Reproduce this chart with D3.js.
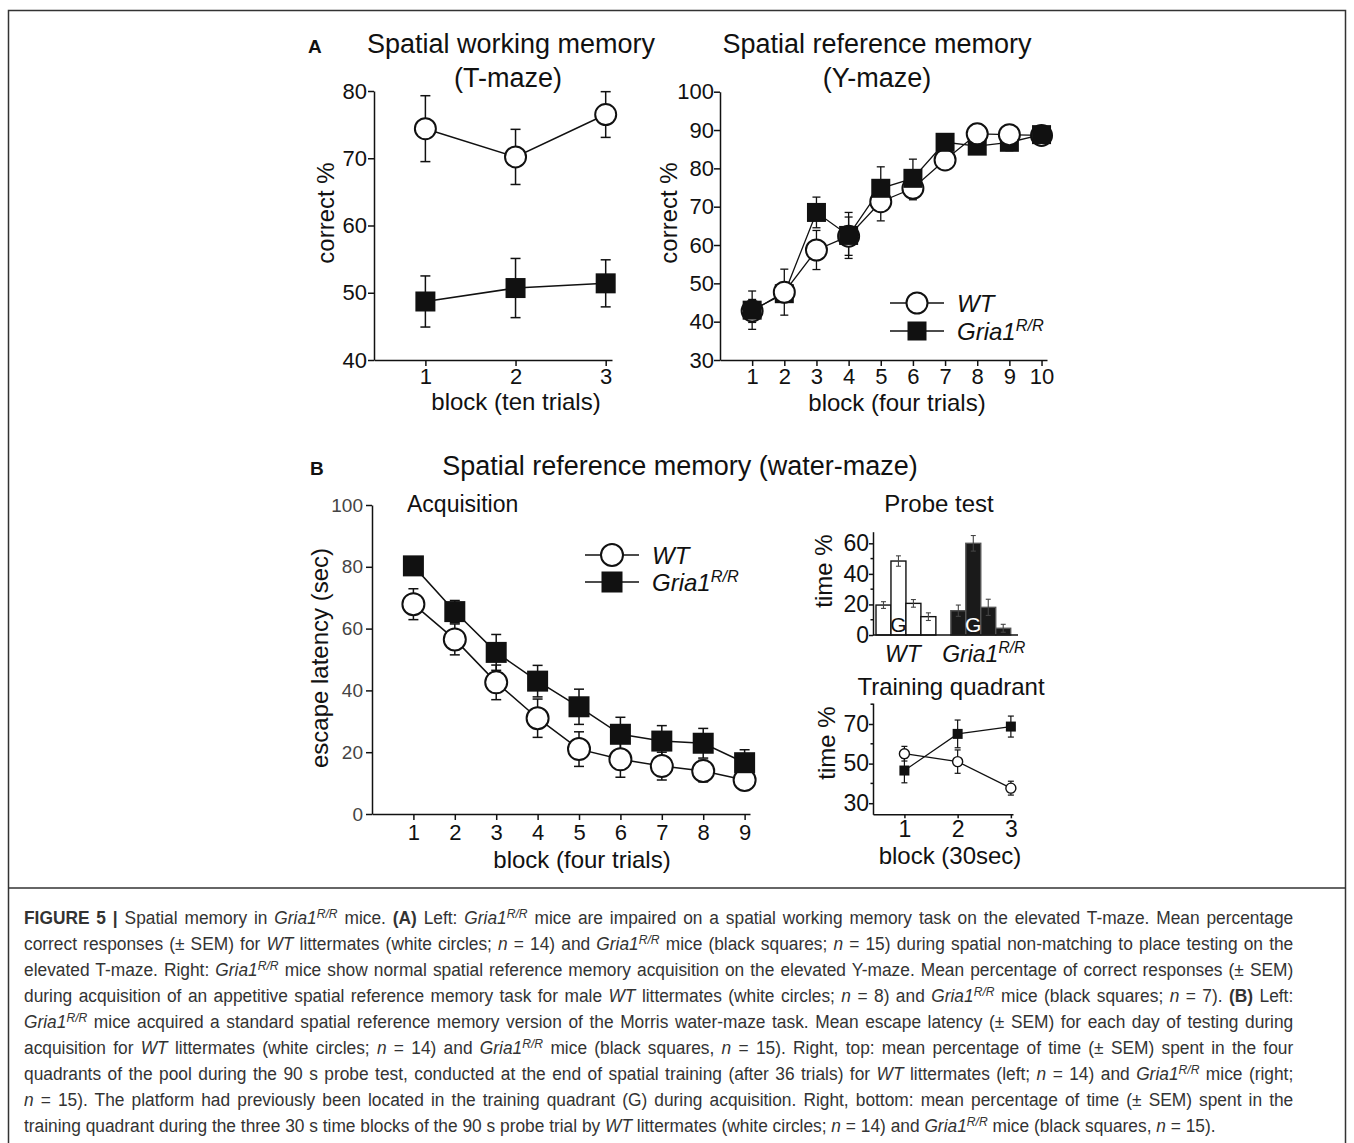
<!DOCTYPE html>
<html>
<head>
<meta charset="utf-8">
<script src="https://cdn.jsdelivr.net/npm/d3@7"></script>
<style>
body { margin: 0; background: #fff; }
#fig { position: relative; width: 1354px; height: 1143px; overflow: hidden; background: #fff; }
#fig svg { position: absolute; left: 0; top: 0; }
.cap { position: absolute; left: 24px; top: 905px; font-family: "Liberation Sans", Arial, sans-serif; font-size: 18px; line-height: 26px; color: #333; }
.cap div { width: 1318px; transform: scaleX(0.963); transform-origin: 0 0; text-align: justify; text-align-last: justify; white-space: nowrap; }
.cap div.last { text-align-last: left; }
.cap sup { font-size: 0.7em; line-height: 0; vertical-align: 0.5em; }
</style>
</head>
<body>
<div id="fig"></div>
<script>
// ---- data ----
// A left: T-maze, block (ten trials)
const tBlocks = [1, 2, 3];
const tmazeWT = [74.4, 70.2, 76.5];
const tmazeWTsem = [4.9, 4.1, 3.4];
const tmazeKO = [48.7, 50.7, 51.4];
const tmazeKOsem = [3.8, 4.4, 3.5];
const tmazeYTicks = [40, 50, 60, 70, 80];

// A right: Y-maze, block (four trials)
const yBlocks = [1, 2, 3, 4, 5, 6, 7, 8, 9, 10];
const ymazeWT = [42.8, 47.7, 58.7, 62.3, 71.3, 74.8, 82.2, 89.0, 88.8, 88.6];
const ymazeWTsem = [3.0, 6.0, 5.1, 5.0, 5.0, 3.0, 2.0, 1.5, 1.5, 1.5];
const ymazeKO = [43.0, 47.3, 68.5, 62.5, 74.8, 77.4, 86.8, 85.8, 86.8, 88.8];
const ymazeKOsem = [5.0, 2.3, 4.0, 6.0, 5.6, 5.0, 1.5, 1.8, 2.2, 2.0];
const ymazeYTicks = [30, 40, 50, 60, 70, 80, 90, 100];

// B left: water-maze acquisition
const wBlocks = [1, 2, 3, 4, 5, 6, 7, 8, 9];
const wmazeWT = [67.9, 56.5, 42.6, 31.0, 21.0, 17.7, 15.5, 13.9, 11.0];
const wmazeWTsem = [5.0, 5.0, 5.6, 6.2, 5.6, 5.8, 4.5, 3.5, 2.0];
const wmazeKO = [80.3, 65.5, 52.3, 43.0, 34.7, 25.8, 23.6, 22.9, 16.6];
const wmazeKOsem = [2.0, 3.6, 5.8, 5.1, 5.7, 5.5, 5.0, 4.8, 4.2];
const wmazeYTicks = [0, 20, 40, 60, 80, 100];

// B right top: probe test, time % per quadrant
const probeGroups = ['WT', 'Gria1'];
const quadrants = ['Q1', 'G', 'Q3', 'Q4'];
const quadLabels = ['', 'G', '', ''];
const probeWT = [19.6, 48.4, 20.7, 12.0];
const probeWTsem = [2.2, 3.4, 2.5, 2.5];
const probeKO = [15.9, 60.0, 18.1, 4.4];
const probeKOsem = [3.7, 5.1, 5.3, 2.6];
const probeYTicks = [0, 20, 40, 60];
const probeYMinor = [10, 30, 50];

// B right bottom: training quadrant, block (30sec)
const qBlocks = [1, 2, 3];
const tquadWT = [55.0, 51.0, 37.6];
const tquadWTsem = [3.7, 5.9, 3.5];
const tquadKO = [46.5, 65.0, 68.7];
const tquadKOsem = [6.2, 7.0, 5.3];
const tquadYTicks = [30, 50, 70];
const tquadYMinor = [40, 60, 80];

const captionLines = [
  '<b>FIGURE 5 |</b> Spatial memory in <i>Gria1<sup>R/R</sup></i> mice. <b>(A)</b> Left: <i>Gria1<sup>R/R</sup></i> mice are impaired on a spatial working memory task on the elevated T-maze. Mean percentage',
  'correct responses (± SEM) for <i>WT</i> littermates (white circles; <i>n</i> = 14) and <i>Gria1<sup>R/R</sup></i> mice (black squares; <i>n</i> = 15) during spatial non-matching to place testing on the',
  'elevated T-maze. Right: <i>Gria1<sup>R/R</sup></i> mice show normal spatial reference memory acquisition on the elevated Y-maze. Mean percentage of correct responses (± SEM)',
  'during acquisition of an appetitive spatial reference memory task for male <i>WT</i> littermates (white circles; <i>n</i> = 8) and <i>Gria1<sup>R/R</sup></i> mice (black squares; <i>n</i> = 7). <b>(B)</b> Left:',
  '<i>Gria1<sup>R/R</sup></i> mice acquired a standard spatial reference memory version of the Morris water-maze task. Mean escape latency (± SEM) for each day of testing during',
  'acquisition for <i>WT</i> littermates (white circles; <i>n</i> = 14) and <i>Gria1<sup>R/R</sup></i> mice (black squares, <i>n</i> = 15). Right, top: mean percentage of time (± SEM) spent in the four',
  'quadrants of the pool during the 90 s probe test, conducted at the end of spatial training (after 36 trials) for <i>WT</i> littermates (left; <i>n</i> = 14) and <i>Gria1<sup>R/R</sup></i> mice (right;',
  '<i>n</i> = 15). The platform had previously been located in the training quadrant (G) during acquisition. Right, bottom: mean percentage of time (± SEM) spent in the',
  'training quadrant during the three 30 s time blocks of the 90 s probe trial by <i>WT</i> littermates (white circles; <i>n</i> = 14) and <i>Gria1<sup>R/R</sup></i> mice (black squares, <i>n</i> = 15).'
];

const FONT = '"Liberation Sans", Arial, Helvetica, sans-serif';
const INK = '#111';

const svg = d3.select('#fig').append('svg').attr('width', 1354).attr('height', 1143);
svg.append('rect').attr('width', 1354).attr('height', 1143).attr('fill', '#fff');
// frame round figure + caption
svg.append('path').attr('d', 'M8.5,1143V10.5H1345.5V1143')
    .attr('fill', 'none').attr('stroke', '#333').attr('stroke-width', 1.5);
svg.append('line').attr('x1', 8.5).attr('x2', 1345.5).attr('y1', 888).attr('y2', 888)
    .attr('stroke', '#333').attr('stroke-width', 1.5);

function text(x, y, str, size, opts) {
    opts = opts || {};
    let t = svg.append('text').attr('x', x).attr('y', y)
        .attr('font-family', FONT).attr('font-size', size).attr('fill', INK)
        .attr('text-anchor', opts.anchor || 'middle')
        .text(str);
    if (opts.bold) t.attr('font-weight', 'bold');
    if (opts.italic) t.attr('font-style', 'italic');
    return t;
}
function vtext(x, y, str, size) {
    return svg.append('text').attr('transform', 'translate(' + x + ',' + y + ') rotate(-90)')
        .attr('font-family', FONT).attr('font-size', size).attr('fill', INK)
        .attr('text-anchor', 'middle').text(str);
}
function gria(sel, size) {
    sel.append('tspan').text('Gria1');
    sel.append('tspan').attr('dy', -size * 0.38).attr('font-size', size * 0.68).text('R/R');
}

function marker(sel, kind, r) {
    if (kind == 'circle') {
        sel.append('circle').attr('r', r).attr('fill', '#fff').attr('stroke', INK).attr('stroke-width', r > 7 ? 2 : 1.4);
    } else {
        sel.append('rect').attr('x', -r).attr('y', -r).attr('width', r * 2).attr('height', r * 2).attr('fill', INK);
    }
}

function linePanel(p) {
    const g = svg.append('g').attr('transform', 'translate(' + p.left + ',' + p.top + ')');
    const w = p.right - p.left, h = p.bottom - p.top;
    const x = d3.scaleLinear().domain(p.xDomain).range([0, w]);
    const y = d3.scaleLinear().domain(p.yDomain).range([h, 0]);

    const xa = g.append('g').attr('transform', 'translate(0,' + h + ')')
        .call(d3.axisBottom(x).tickValues(p.x).tickFormat(d3.format('d')).tickSize(p.tick).tickSizeOuter(0).tickPadding(p.xPad));
    const ya = g.append('g')
        .call(d3.axisLeft(y).tickValues(p.yTicks).tickSize(p.tick).tickSizeOuter(0).tickPadding(p.yPad));
    [xa, ya].forEach(a => {
        a.attr('font-family', FONT).attr('font-size', p.tickFont);
        a.selectAll('path, line').attr('stroke', INK).attr('stroke-width', 1.5);
        a.selectAll('text').attr('fill', INK);
    });
    if (p.yFont) ya.selectAll('text').attr('font-size', p.yFont).attr('fill', p.yColor);
    if (p.yMinor) {
        ya.selectAll('.minor').data(p.yMinor).enter().append('line').attr('class', 'minor')
            .attr('x2', -p.minor).attr('y1', d => y(d)).attr('y2', d => y(d))
            .attr('stroke', INK).attr('stroke-width', 1.5);
    }

    const under = g.append('g'), over = g.append('g');
    p.series.forEach(s => {
        under.append('path').datum(s.v)
            .attr('d', d3.line().x((d, i) => x(p.x[i])).y(d => y(d)))
            .attr('fill', 'none').attr('stroke', INK).attr('stroke-width', p.lw);
        const eb = under.selectAll(null).data(s.v).enter().append('g')
            .attr('transform', (d, i) => 'translate(' + x(p.x[i]) + ',0)')
            .attr('stroke', INK).attr('stroke-width', p.lw);
        eb.append('line').attr('y1', (d, i) => y(d - s.e[i])).attr('y2', (d, i) => y(d + s.e[i]));
        eb.append('line').attr('x1', -p.cap).attr('x2', p.cap).attr('y1', (d, i) => y(d + s.e[i])).attr('y2', (d, i) => y(d + s.e[i]));
        eb.append('line').attr('x1', -p.cap).attr('x2', p.cap).attr('y1', (d, i) => y(d - s.e[i])).attr('y2', (d, i) => y(d - s.e[i]));
    });
    // markers: at each block the higher point is drawn last (on top)
    const pts = [];
    p.series.forEach(s => s.v.forEach((d, i) => pts.push({x: p.x[i], v: d, kind: s.kind})));
    pts.sort((a, b) => a.v - b.v);
    over.selectAll(null).data(pts).enter().append('g')
        .attr('transform', d => 'translate(' + x(d.x) + ',' + y(d.v) + ')')
        .each(function(d) { marker(d3.select(this), d.kind, d.kind == 'circle' ? p.r : p.sq); });
}

function legend(x0, x1, yWT, yKO, tx, r, sq) {
    [[yWT, 'circle'], [yKO, 'square']].forEach(row => {
        svg.append('line').attr('x1', x0).attr('x2', x1).attr('y1', row[0]).attr('y2', row[0])
            .attr('stroke', INK).attr('stroke-width', 1.4);
        marker(svg.append('g').attr('transform', 'translate(' + (x0 + x1) / 2 + ',' + row[0] + ')'), row[1], row[1] == 'circle' ? r : sq);
    });
    text(tx, yWT + 9, 'WT', 24, {anchor: 'start', italic: true});
    gria(text(tx, yKO + 9, '', 24, {anchor: 'start', italic: true}), 24);
}

// ---------- panel A ----------
text(308, 53, 'A', 19, {anchor: 'start', bold: true});
text(511, 53, 'Spatial working memory', 27);
text(508, 87, '(T-maze)', 27);
text(877, 53, 'Spatial reference memory', 27);
text(877, 87, '(Y-maze)', 27);

linePanel({
    left: 374, right: 612, top: 91, bottom: 360,
    xDomain: [0.43, 3.07], yDomain: [40, 80], x: tBlocks, yTicks: tmazeYTicks,
    tick: 6, xPad: 2, yPad: 1, tickFont: 22, lw: 1.5, cap: 5, r: 10.5, sq: 10,
    series: [{v: tmazeWT, e: tmazeWTsem, kind: 'circle'}, {v: tmazeKO, e: tmazeKOsem, kind: 'square'}]
});
vtext(334, 213, 'correct %', 24);
text(516, 410, 'block (ten trials)', 24);

linePanel({
    left: 720, right: 1047, top: 91.7, bottom: 360,
    xDomain: [0, 10.17], yDomain: [30, 100], x: yBlocks, yTicks: ymazeYTicks,
    tick: 6, xPad: 2, yPad: 0, tickFont: 22, lw: 1.3, cap: 4, r: 10.5, sq: 9.5,
    series: [{v: ymazeWT, e: ymazeWTsem, kind: 'circle'}, {v: ymazeKO, e: ymazeKOsem, kind: 'square'}]
});
vtext(677, 213, 'correct %', 24);
text(897, 411, 'block (four trials)', 24);
legend(890, 944, 303, 331, 957, 10.5, 9.5);

// ---------- panel B ----------
text(310, 475, 'B', 19, {anchor: 'start', bold: true});
text(680, 475, 'Spatial reference memory (water-maze)', 27);
text(407, 512, 'Acquisition', 23, {anchor: 'start'});

linePanel({
    left: 372, right: 750, top: 505, bottom: 814,
    xDomain: [0, 9.13], yDomain: [0, 100], x: wBlocks, yTicks: wmazeYTicks,
    tick: 6, xPad: 4, yPad: 3, tickFont: 22, yFont: 19, yColor: '#444', lw: 1.5, cap: 5, r: 11, sq: 10.5,
    series: [{v: wmazeWT, e: wmazeWTsem, kind: 'circle'}, {v: wmazeKO, e: wmazeKOsem, kind: 'square'}]
});
vtext(328, 658, 'escape latency (sec)', 24);
text(582, 868, 'block (four trials)', 24);
legend(585, 639, 555, 582, 652, 11, 10.5);

// probe test bars
text(939, 512, 'Probe test', 24);
(function() {
    const left = 873, right = 1018, top = 531.7, bottom = 635;
    const w = right - left, h = bottom - top;
    const g = svg.append('g').attr('transform', 'translate(' + left + ',' + top + ')');
    const y = d3.scaleLinear().domain([0, 67.6]).range([h, 0]);
    const gx = d3.scaleBand().domain(probeGroups).range([3, 137.7]).paddingInner(0.2);
    const qx = d3.scaleBand().domain(quadrants).range([0, gx.bandwidth()]);
    const groups = [
        {key: 'WT', v: probeWT, e: probeWTsem, fill: '#fff', stroke: INK, ink: INK},
        {key: 'Gria1', v: probeKO, e: probeKOsem, fill: '#1a1a1a', stroke: '#555', ink: '#fff'}
    ];
    groups.forEach(grp => {
        const gg = g.append('g').attr('transform', 'translate(' + gx(grp.key) + ',0)');
        gg.selectAll('rect').data(grp.v).enter().append('rect')
            .attr('x', (d, i) => qx(quadrants[i])).attr('width', qx.bandwidth())
            .attr('y', d => y(d)).attr('height', d => h - y(d))
            .attr('fill', grp.fill).attr('stroke', grp.stroke).attr('stroke-width', 1.4);
        const eb = gg.selectAll('.eb').data(grp.v).enter().append('g').attr('class', 'eb')
            .attr('transform', (d, i) => 'translate(' + (qx(quadrants[i]) + qx.bandwidth() / 2) + ',0)')
            .attr('stroke', '#444').attr('stroke-width', 1.1);
        eb.append('line').attr('y1', (d, i) => y(d - grp.e[i])).attr('y2', (d, i) => y(d + grp.e[i]));
        eb.append('line').attr('x1', -2.5).attr('x2', 2.5).attr('y1', (d, i) => y(d + grp.e[i])).attr('y2', (d, i) => y(d + grp.e[i]));
        eb.append('line').attr('x1', -2.5).attr('x2', 2.5).attr('y1', (d, i) => y(d - grp.e[i])).attr('y2', (d, i) => y(d - grp.e[i]));
        gg.selectAll('.ql').data(quadLabels).enter().append('text').attr('class', 'ql')
            .attr('x', (d, i) => qx(quadrants[i]) + qx.bandwidth() / 2).attr('y', h - 3)
            .attr('text-anchor', 'middle').attr('font-family', FONT).attr('font-size', 21)
            .attr('fill', grp.ink).text(d => d);
    });
    const ya = g.append('g').call(d3.axisLeft(y).tickValues(probeYTicks).tickSize(4).tickSizeOuter(0).tickPadding(0));
    ya.attr('font-family', FONT).attr('font-size', 23);
    ya.selectAll('path, line').attr('stroke', INK).attr('stroke-width', 1.5);
    ya.selectAll('text').attr('fill', INK);
    ya.selectAll('.minor').data(probeYMinor).enter().append('line').attr('class', 'minor')
        .attr('x2', -2.5).attr('y1', d => y(d)).attr('y2', d => y(d)).attr('stroke', INK).attr('stroke-width', 1.5);
    g.append('line').attr('x1', 0).attr('x2', w).attr('y1', h).attr('y2', h).attr('stroke', INK).attr('stroke-width', 1.5);
    const lab = g.selectAll('.gl').data(probeGroups).enter().append('text').attr('class', 'gl')
        .attr('x', d => gx(d) + gx.bandwidth() / 2 + (d == 'WT' ? -3 : 3)).attr('y', 130.3)
        .attr('text-anchor', 'middle').attr('font-family', FONT).attr('font-size', 23)
        .attr('font-style', 'italic').attr('fill', INK);
    lab.filter(d => d == 'WT').text('WT');
    lab.filter(d => d != 'WT').each(function() { gria(d3.select(this), 23); });
})();
vtext(832, 571, 'time %', 24);

// training quadrant
text(951, 695, 'Training quadrant', 24);
linePanel({
    left: 873, right: 1013, top: 703, bottom: 814.3,
    xDomain: [0.41, 3.04], yDomain: [24.4, 80.6], x: qBlocks, yTicks: tquadYTicks, yMinor: tquadYMinor, minor: 2.5,
    tick: 4, xPad: 2, yPad: 0, tickFont: 23, lw: 1.2, cap: 3, r: 5, sq: 5,
    series: [{v: tquadWT, e: tquadWTsem, kind: 'circle'}, {v: tquadKO, e: tquadKOsem, kind: 'square'}]
});
vtext(835, 743, 'time %', 24);
text(950, 864, 'block (30sec)', 24);

// caption
const cap = d3.select('#fig').append('div').attr('class', 'cap');
cap.selectAll('div').data(captionLines).enter().append('div')
    .attr('class', (d, i) => i == captionLines.length - 1 ? 'last' : null)
    .html(d => d);
</script>
</body>
</html>
